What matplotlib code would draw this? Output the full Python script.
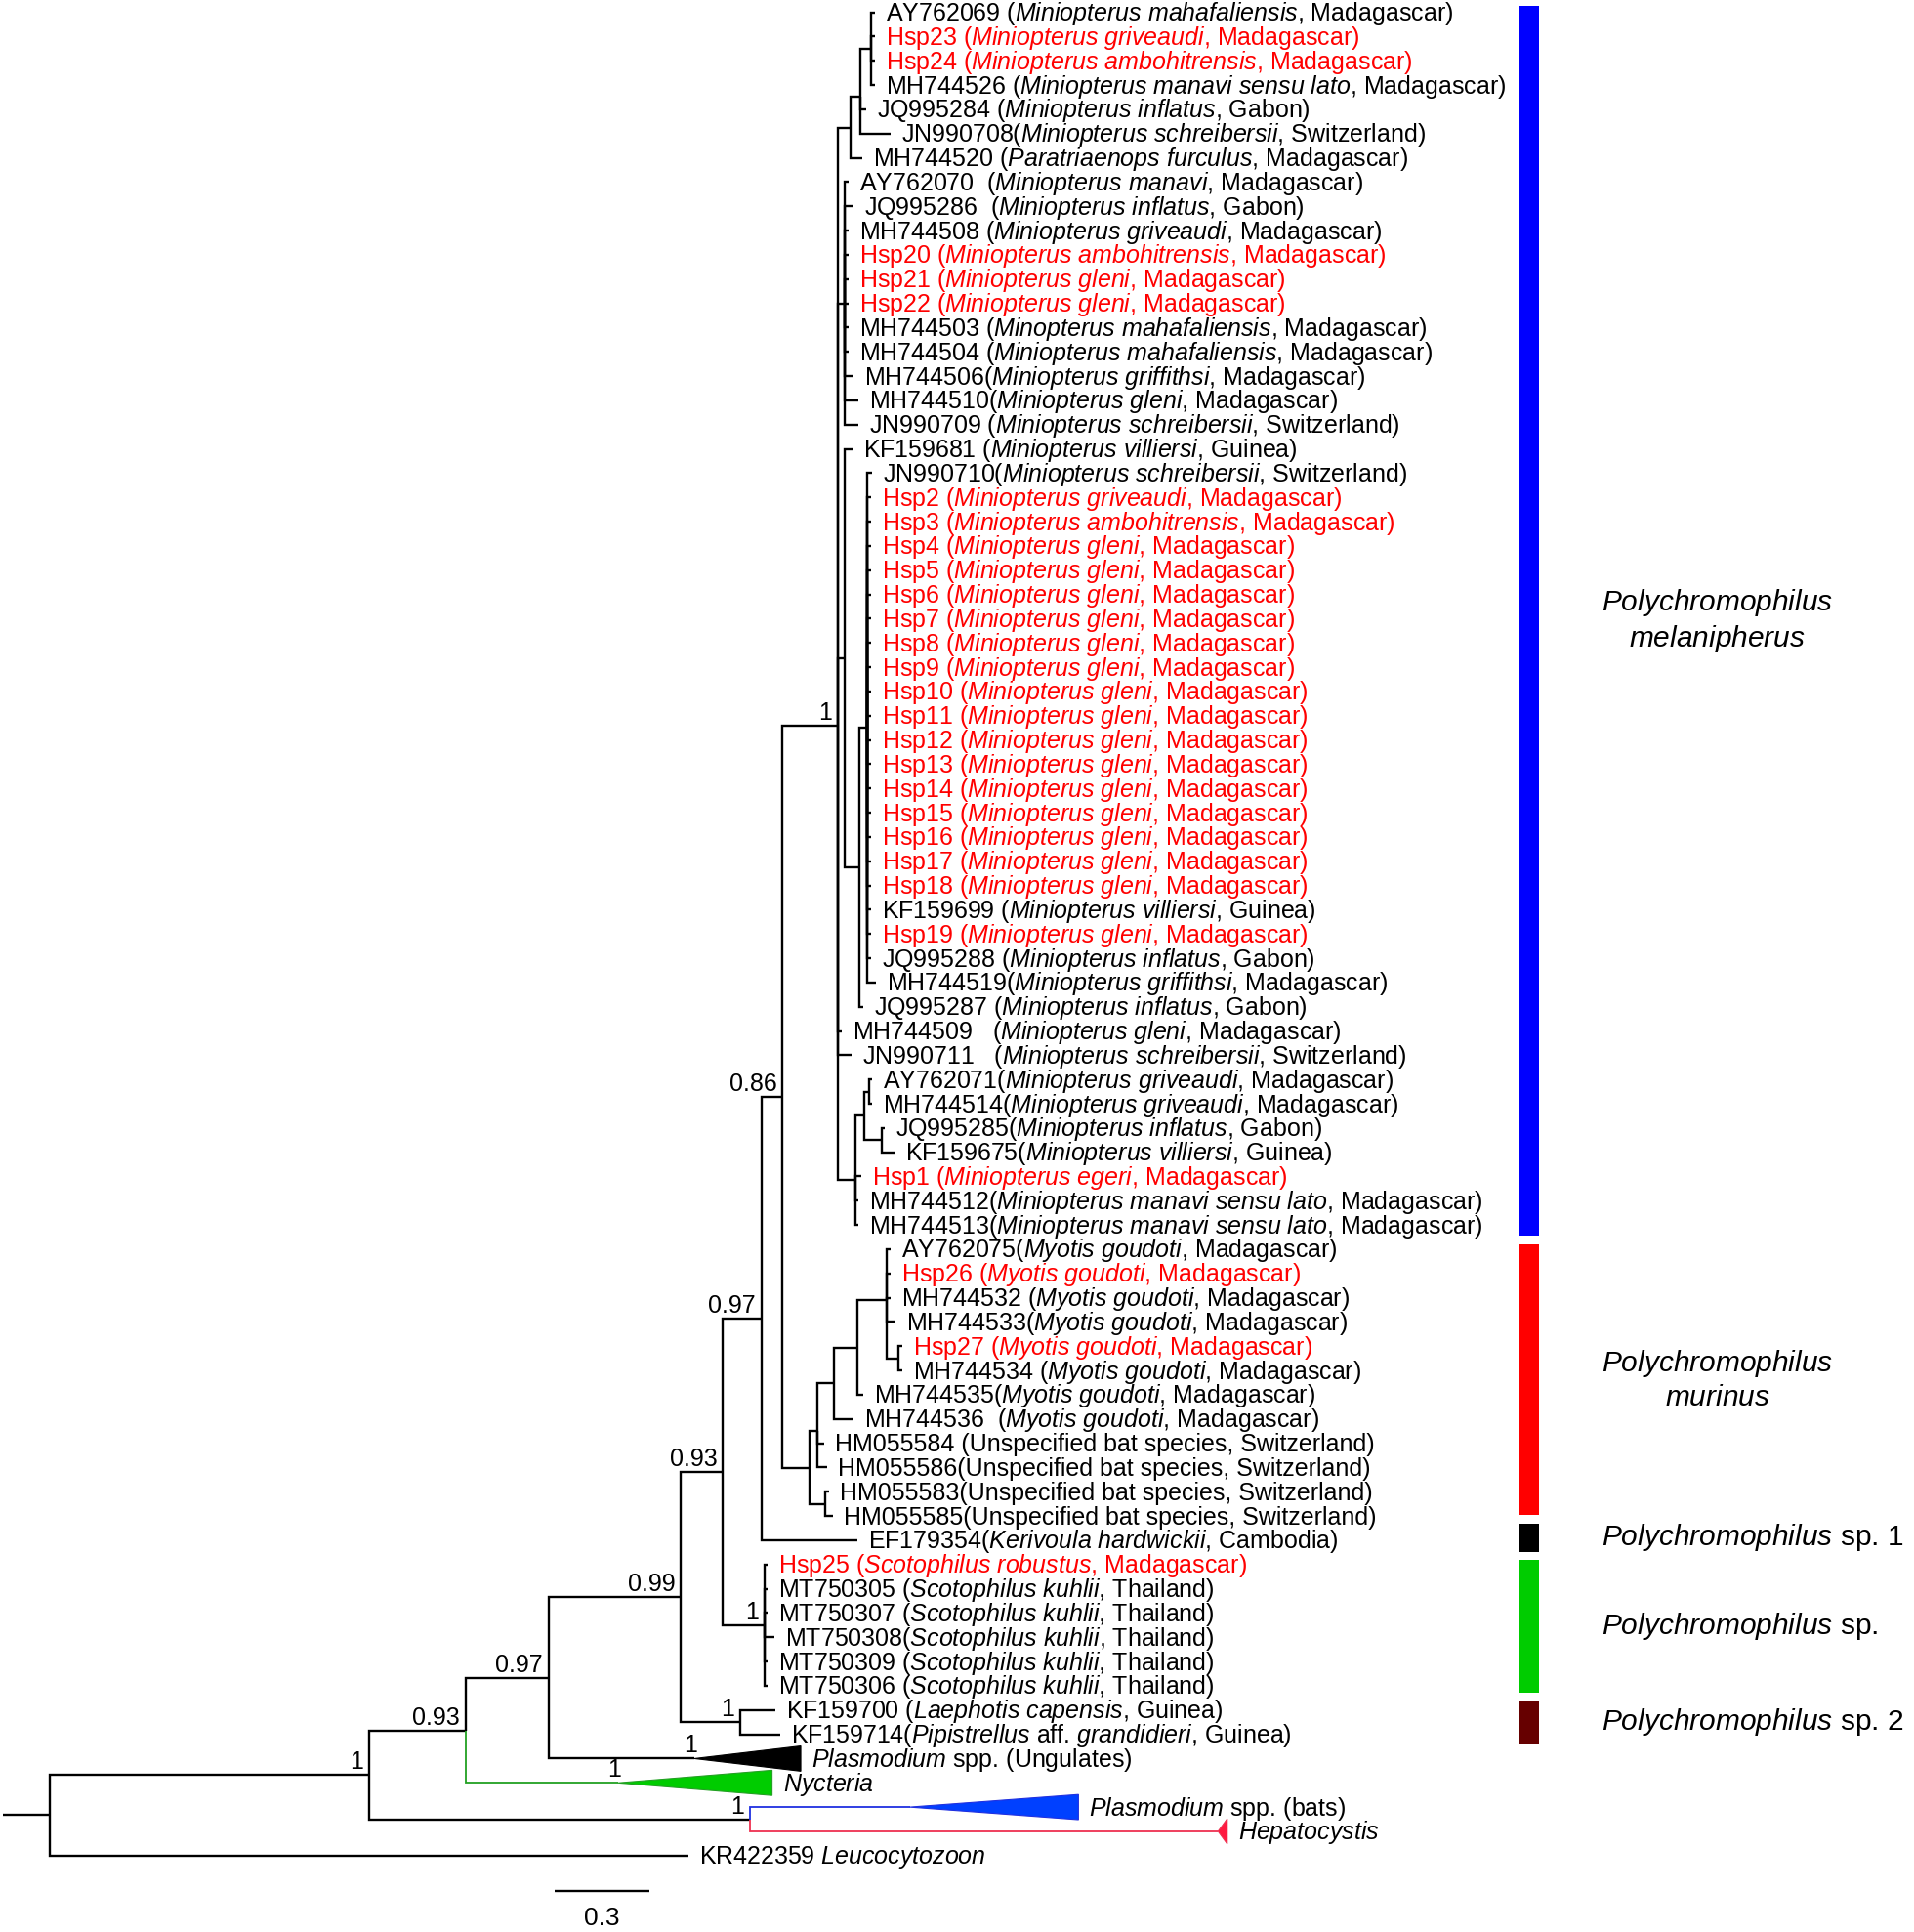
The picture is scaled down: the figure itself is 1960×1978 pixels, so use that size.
import re
import numpy as np
import matplotlib.pyplot as plt

plt.rcParams['font.family'] = 'Liberation Sans'
plt.rcParams['mathtext.fontset'] = 'custom'
plt.rcParams['mathtext.rm'] = 'Liberation Sans'
plt.rcParams['mathtext.it'] = 'Liberation Sans:italic'

# tip labels, top to bottom (words between * are italic)
tip_labels = [
    "AY762069 (*Miniopterus mahafaliensis*, Madagascar)",
    "Hsp23 (*Miniopterus griveaudi*, Madagascar)",
    "Hsp24 (*Miniopterus ambohitrensis*, Madagascar)",
    "MH744526 (*Miniopterus manavi sensu lato*, Madagascar)",
    "JQ995284 (*Miniopterus inflatus*, Gabon)",
    "JN990708(*Miniopterus schreibersii*, Switzerland)",
    "MH744520 (*Paratriaenops furculus*, Madagascar)",
    "AY762070  (*Miniopterus manavi*, Madagascar)",
    "JQ995286  (*Miniopterus inflatus*, Gabon)",
    "MH744508 (*Miniopterus griveaudi*, Madagascar)",
    "Hsp20 (*Miniopterus ambohitrensis*, Madagascar)",
    "Hsp21 (*Miniopterus gleni*, Madagascar)",
    "Hsp22 (*Miniopterus gleni*, Madagascar)",
    "MH744503 (*Minopterus mahafaliensis*, Madagascar)",
    "MH744504 (*Miniopterus mahafaliensis*, Madagascar)",
    "MH744506(*Miniopterus griffithsi*, Madagascar)",
    "MH744510(*Miniopterus gleni*, Madagascar)",
    "JN990709 (*Miniopterus schreibersii*, Switzerland)",
    "KF159681 (*Miniopterus villiersi*, Guinea)",
    "JN990710(*Miniopterus schreibersii*, Switzerland)",
    "Hsp2 (*Miniopterus griveaudi*, Madagascar)",
    "Hsp3 (*Miniopterus ambohitrensis*, Madagascar)",
    "Hsp4 (*Miniopterus gleni*, Madagascar)",
    "Hsp5 (*Miniopterus gleni*, Madagascar)",
    "Hsp6 (*Miniopterus gleni*, Madagascar)",
    "Hsp7 (*Miniopterus gleni*, Madagascar)",
    "Hsp8 (*Miniopterus gleni*, Madagascar)",
    "Hsp9 (*Miniopterus gleni*, Madagascar)",
    "Hsp10 (*Miniopterus gleni*, Madagascar)",
    "Hsp11 (*Miniopterus gleni*, Madagascar)",
    "Hsp12 (*Miniopterus gleni*, Madagascar)",
    "Hsp13 (*Miniopterus gleni*, Madagascar)",
    "Hsp14 (*Miniopterus gleni*, Madagascar)",
    "Hsp15 (*Miniopterus gleni*, Madagascar)",
    "Hsp16 (*Miniopterus gleni*, Madagascar)",
    "Hsp17 (*Miniopterus gleni*, Madagascar)",
    "Hsp18 (*Miniopterus gleni*, Madagascar)",
    "KF159699 (*Miniopterus villiersi*, Guinea)",
    "Hsp19 (*Miniopterus gleni*, Madagascar)",
    "JQ995288 (*Miniopterus inflatus*, Gabon)",
    "MH744519(*Miniopterus griffithsi*, Madagascar)",
    "JQ995287 (*Miniopterus inflatus*, Gabon)",
    "MH744509   (*Miniopterus gleni*, Madagascar)",
    "JN990711   (*Miniopterus schreibersii*, Switzerland)",
    "AY762071(*Miniopterus griveaudi*, Madagascar)",
    "MH744514(*Miniopterus griveaudi*, Madagascar)",
    "JQ995285(*Miniopterus inflatus*, Gabon)",
    "KF159675(*Miniopterus villiersi*, Guinea)",
    "Hsp1 (*Miniopterus egeri*, Madagascar)",
    "MH744512(*Miniopterus manavi sensu lato*, Madagascar)",
    "MH744513(*Miniopterus manavi sensu lato*, Madagascar)",
    "AY762075(*Myotis goudoti*, Madagascar)",
    "Hsp26 (*Myotis goudoti*, Madagascar)",
    "MH744532 (*Myotis goudoti*, Madagascar)",
    "MH744533(*Myotis goudoti*, Madagascar)",
    "Hsp27 (*Myotis goudoti*, Madagascar)",
    "MH744534 (*Myotis goudoti*, Madagascar)",
    "MH744535(*Myotis goudoti*, Madagascar)",
    "MH744536  (*Myotis goudoti*, Madagascar)",
    "HM055584 (Unspecified bat species, Switzerland)",
    "HM055586(Unspecified bat species, Switzerland)",
    "HM055583(Unspecified bat species, Switzerland)",
    "HM055585(Unspecified bat species, Switzerland)",
    "EF179354(*Kerivoula hardwickii*, Cambodia)",
    "Hsp25 (*Scotophilus robustus*, Madagascar)",
    "MT750305 (*Scotophilus kuhlii*, Thailand)",
    "MT750307 (*Scotophilus kuhlii*, Thailand)",
    "MT750308(*Scotophilus kuhlii*, Thailand)",
    "MT750309 (*Scotophilus kuhlii*, Thailand)",
    "MT750306 (*Scotophilus kuhlii*, Thailand)",
    "KF159700 (*Laephotis capensis*, Guinea)",
    "KF159714(*Pipistrellus* aff. *grandidieri*, Guinea)",
    "*Plasmodium* spp. (Ungulates)",
    "*Nycteria*",
    "*Plasmodium* spp. (bats)",
    "*Hepatocystis*",
    "KR422359 *Leucocytozoon*",
]

# collapsed clades: tip number -> clade depth, fill colour
collapsed_depth = {73: 0.337, 74: 0.488, 75: 0.534, 76: 0.029}
collapsed_fill = {73: '#000000', 74: '#00cc00', 75: '#0040ff', 76: '#ff1a40'}
branch_colour = {74: '#22a022', 75: '#2030e0', 76: '#ee3050'}
collapsed_support = {73: '1', 74: '1'}

# tree with branch lengths (substitutions/site) and posterior support
X = "(56:0.012,57:0.012)"
W = f"(52:0.013,53:0.013,54:0.013,55:0.029,{X}:0.036)"
U = f"(({W}:0.093,58:0.020):0.075,59:0.064)"
J = f"(({U}:0.052,60:0.022,61:0.030):0.025,(62:0.014,63:0.026):0.049)"
K3 = "(((1:0.010,2:0.010,3:0.010,4:0.010):0.036,5:0.019,6:0.097):0.029,7:0.035)"
K5 = ("(8:0.014,9:0.030,10:0.014,11:0.014,12:0.014,13:0.014,14:0.014,"
      "15:0.014,16:0.030,17:0.045,18:0.045)")
M = ("(20:0.016,21:0.012,22:0.012,23:0.012,24:0.012,25:0.012,26:0.012,"
     "27:0.012,28:0.012,29:0.012,30:0.012,31:0.012,32:0.012,33:0.012,"
     "34:0.012,35:0.012,36:0.012,37:0.012,38:0.012,39:0.012,40:0.012,41:0.028)")
O = f"(19:0.026,({M}:0.026,42:0.015):0.046)"
L = "(((45:0.011,46:0.011):0.015,(47:0.009,48:0.040):0.057):0.026,49:0.017,50:0.009,51:0.009)"
I = f"({K3}:0.041,{K5}:0.020,{O}:0.020,43:0.011,44:0.042,{L}:0.056)1"
H = f"({I}:0.176,{J}:0.085)0.86"
G = f"({H}:0.067,64:0.303)0.97"
SC = "(65:0.010,66:0.010,67:0.010,68:0.032,69:0.010,70:0.010)1"
F = f"({G}:0.121,{SC}:0.130)0.93"
E = f"({F}:0.133,(71:0.111,72:0.127)1:0.187)0.99"
D = f"({E}:0.419,73:0.461)0.97"
C = f"({D}:0.263,74:0.482)0.93"
B = "(75:0.505,76:1.481)1"
newick = f"(({C}:0.307,{B}:1.208)1:1.010,77:2.023):0.149;"

# coloured bars on the right: first/last row covered, colour, name
bar_start = [-0.25, 50.8, 62.3, 63.8, 69.6]
bar_end = [50.44, 61.96, 63.5, 69.3, 71.4]
bar_colours = ['#0000ff', '#ff0000', '#000000', '#00cc00', '#660000']
bar_names = ["*Polychromophilus*\n*melanipherus*", "*Polychromophilus*\n*murinus*",
             "*Polychromophilus* sp. 1", "*Polychromophilus* sp.",
             "*Polychromophilus* sp. 2"]
scale_length = 0.3


def fmt(s):
    # turn *italic words* into mathtext italics
    return re.sub(r"\*(.+?)\*",
                  lambda m: " ".join(r"$\mathit{%s}$" % w for w in m.group(1).split()), s)


def parse_newick(s):
    s = s.strip().rstrip(';')
    pos = 0

    def node():
        nonlocal pos
        kids = []
        if s[pos] == '(':
            pos += 1
            while True:
                kids.append(node())
                if s[pos] == ',':
                    pos += 1
                    continue
                pos += 1
                break
        start = pos
        while pos < len(s) and s[pos] not in ':,)':
            pos += 1
        name = s[start:pos]
        length = 0.0
        if pos < len(s) and s[pos] == ':':
            pos += 1
            start = pos
            while pos < len(s) and s[pos] not in ',)':
                pos += 1
            length = float(s[start:pos])
        return {'name': name, 'len': length, 'kids': kids}
    return node()


def place(nd, x0):
    nd['x'] = x0 + nd['len']
    if nd['kids']:
        for k in nd['kids']:
            place(k, nd['x'])
        nd['y'] = np.mean([k['y'] for k in nd['kids']])
    else:
        nd['y'] = int(nd['name']) - 1


fig = plt.figure(figsize=(19.6, 19.78), dpi=100)
ax = fig.add_axes([0, 0, 1, 1])
ax.set_xlim(-0.008, 6.051)
ax.set_ylim(79.15, -0.507)
ax.axis('off')

LW = 1.7
FS = 18


def draw(nd):
    for k in nd['kids']:
        tip = None if k['kids'] else int(k['name'])
        c = branch_colour.get(tip, 'black')
        lw = 1.3 if tip in branch_colour else LW
        ax.plot([nd['x'], nd['x'], k['x']], [nd['y'], k['y'], k['y']],
                color=c, lw=lw, solid_joinstyle='miter', solid_capstyle='butt')
        draw(k)
    if nd['kids']:
        if nd['name']:
            ax.annotate(nd['name'], (nd['x'], nd['y']), xytext=(-6, 6),
                        textcoords='offset pixels', ha='right', va='baseline',
                        fontsize=FS)
        return
    n = int(nd['name'])
    x_end = nd['x']
    if n in collapsed_depth:
        depth = collapsed_depth[n]
        fc = collapsed_fill[n]
        ax.fill([nd['x'], nd['x'] + depth, nd['x'] + depth],
                [nd['y'], nd['y'] - 0.52, nd['y'] + 0.52],
                facecolor=fc, edgecolor=branch_colour.get(n, fc), lw=0.8)
        x_end += depth
        if n in collapsed_support:
            ax.annotate(collapsed_support[n], (nd['x'], nd['y']), xytext=(3, 6),
                        textcoords='offset pixels', ha='right', va='baseline',
                        fontsize=FS)
    label = tip_labels[n - 1]
    colour = 'red' if label.startswith('Hsp') else 'black'
    ax.annotate(fmt(label), (x_end, nd['y']), xytext=(11, -8.5),
                textcoords='offset pixels', ha='left', va='baseline',
                fontsize=FS, color=colour)


tree = parse_newick(newick)
place(tree, 0.0)
ax.plot([0, tree['x']], [tree['y'], tree['y']], color='black', lw=LW,
        solid_capstyle='butt')
draw(tree)

# clade bars and names
starts = np.array(bar_start)
ends = np.array(bar_end)
ax.bar(4.831, ends - starts, bottom=starts, width=0.064, color=bar_colours)
for s, e, name in zip(starts, ends, bar_names):
    ax.text(5.061, (s + e) / 2, fmt(name), ha='left', va='center',
            multialignment='center', fontsize=21.5)

# scale bar
ax.plot([1.747, 1.747 + scale_length], [77.46, 77.46], color='black', lw=LW,
        solid_capstyle='butt')
ax.text(1.747 + scale_length / 2, 78.6, f"{scale_length:g}", ha='center',
        va='center', fontsize=19)

fig.savefig('out.png', dpi=100, facecolor='white')
